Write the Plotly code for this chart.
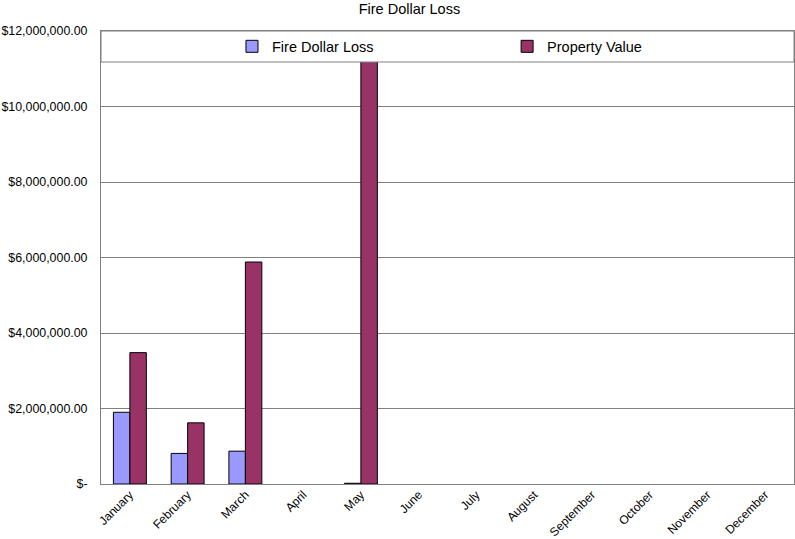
import plotly.graph_objects as go

months = ["January", "February", "March", "April", "May", "June", "July",
          "August", "September", "October", "November", "December"]
# months with no reported figures are left empty
fire_dollar_loss = [1900000, 810000, 870000, None, 20000, None, None, None, None, None, None, None]
property_value = [3480000, 1620000, 5880000, None, 11600000, None, None, None, None, None, None, None]

tick_vals = [0, 2000000, 4000000, 6000000, 8000000, 10000000, 12000000]
tick_text = ["$-", "$2,000,000.00", "$4,000,000.00", "$6,000,000.00",
             "$8,000,000.00", "$10,000,000.00", "$12,000,000.00"]

FONT = "Liberation Sans, Arial, sans-serif"

fig = go.Figure()
fig.add_trace(go.Bar(
    x=months, y=fire_dollar_loss, name="Fire Dollar Loss", legend="legend",
    marker=dict(color="#9999FF", line=dict(color="#000000", width=1)),
))
fig.add_trace(go.Bar(
    x=months, y=property_value, name="Property Value", legend="legend2",
    marker=dict(color="#993366", line=dict(color="#000000", width=1)),
))

# white legend band across the top of the plot area
fig.add_shape(type="rect", xref="paper", yref="paper",
              x0=0, x1=1, y0=0.9316, y1=1,
              fillcolor="white", line=dict(color="#808080", width=1),
              layer="above")

legend_style = dict(orientation="h", xanchor="left", y=0.966, yanchor="middle",
                    bgcolor="rgba(0,0,0,0)", font=dict(size=14.5),
                    itemwidth=30)

fig.update_layout(
    width=795, height=539,
    margin=dict(l=101, r=1, t=31, b=55),
    paper_bgcolor="white", plot_bgcolor="white",
    font=dict(family=FONT, size=12, color="#000000"),
    title=dict(text="Fire Dollar Loss", x=0.515, xanchor="center",
               y=0.983, yanchor="middle", font=dict(size=14.5)),
    barmode="group", bargap=0.43, bargroupgap=0,
    showlegend=True,
    legend=dict(x=0.189, **legend_style),
    legend2=dict(x=0.586, **legend_style),
    xaxis=dict(tickangle=-45, showline=True, linecolor="#808080",
               mirror=True, showgrid=False, ticks="", automargin=False,
               ticklabelstandoff=-2, tickfont=dict(size=12)),
    yaxis=dict(range=[0, 12000000], tickvals=tick_vals, ticktext=tick_text,
               showline=True, linecolor="#808080", mirror=True,
               showgrid=True, gridcolor="#808080", gridwidth=1,
               zeroline=False, ticks="", ticklabelstandoff=10,
               automargin=False, tickfont=dict(size=12.4)),
)

fig.write_html("out.html")
